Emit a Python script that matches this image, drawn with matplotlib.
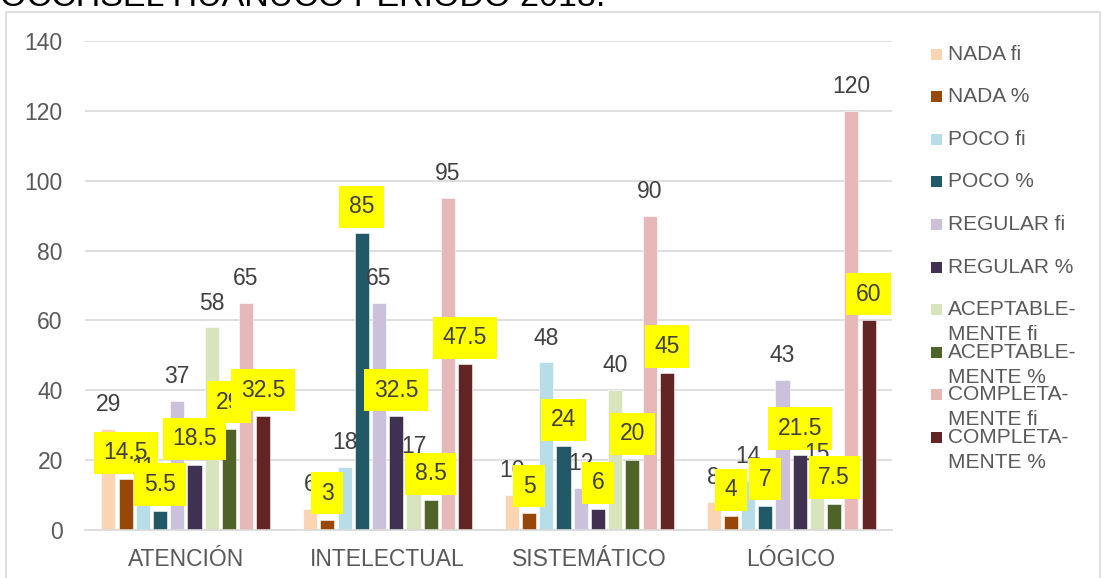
import numpy as np
import matplotlib
matplotlib.use("Agg")
import matplotlib.pyplot as plt
from matplotlib.patches import Rectangle

plt.rcParams['font.family'] = ['Liberation Sans', 'DejaVu Sans']

categories = ['ATENCIÓN', 'INTELECTUAL', 'SISTEMÁTICO', 'LÓGICO']
series = ['NADA fi', 'NADA %', 'POCO fi', 'POCO %', 'REGULAR fi', 'REGULAR %',
          'ACEPTABLE-\nMENTE fi', 'ACEPTABLE-\nMENTE %',
          'COMPLETA-\nMENTE fi', 'COMPLETA-\nMENTE %']
colors = ['#FBD4B4', '#974806', '#B7DDE8', '#215967', '#CCC1DA',
          '#403151', '#D7E4BD', '#4F6228', '#E6B9B8', '#632523']

# one list per series, in category order
nada_fi = [29, 6, 10, 8]
nada_pct = [14.5, 3, 5, 4]
poco_fi = [11, 18, 48, 14]
poco_pct = [5.5, 85, 24, 7]
regular_fi = [37, 65, 12, 43]
regular_pct = [18.5, 32.5, 6, 21.5]
acept_fi = [58, 17, 40, 15]
acept_pct = [29, 8.5, 20, 7.5]
compl_fi = [65, 95, 90, 120]
compl_pct = [32.5, 47.5, 45, 60]
values = [nada_fi, nada_pct, poco_fi, poco_pct, regular_fi, regular_pct,
          acept_fi, acept_pct, compl_fi, compl_pct]

W, H = 1103, 578
fig = plt.figure(figsize=(W / 100, H / 100), dpi=100)

def fx(px):
    return px / W

def fy(py):
    return 1 - py / H

# chart frame and the heading above it (cut off by the image edge)
fig.patches.append(Rectangle((fx(6), fy(600)), fx(1094), fy(12) - fy(600),
                             transform=fig.transFigure, fill=False,
                             edgecolor='#D9D9D9', linewidth=1.2))
fig.text(fx(0), fy(6), 'OCCHSEL HUANUCO PERIODO 2018.', fontsize=24.5,
         color='black', ha='left', va='baseline')

ax = fig.add_axes([fx(85), fy(530), fx(892) - fx(85), fy(41) - fy(530)])

n = len(series)
slot = 0.0853
width = 0.07
x = np.arange(len(categories))
for i, (vals, col) in enumerate(zip(values, colors)):
    pos = x + (i - (n - 1) / 2) * slot
    ax.bar(pos, vals, width, color=col, edgecolor='white', linewidth=0.4,
           zorder=2)
    for xp, v in zip(pos, vals):
        if i % 2 == 0:
            ax.annotate(f'{v:g}', xy=(xp, v), xytext=(0, 17.5),
                        textcoords='offset points', ha='center', va='center',
                        fontsize=16.5, color='#404040', zorder=10 + i)
        else:
            ax.annotate(f'{v:g}', xy=(xp, v), xytext=(0, 19),
                        textcoords='offset points', ha='center', va='center',
                        fontsize=16.5, color='#404040', zorder=10 + i,
                        bbox=dict(boxstyle='square,pad=0.42', fc='#FFFF00',
                                  ec='none'))

ax.set_ylim(0, 140)
ax.set_xlim(-0.5, len(categories) - 0.5)
ax.set_yticks(range(0, 141, 20))
ax.set_xticks(x)
ax.set_xticklabels(categories)
ax.tick_params(axis='y', length=0, pad=16, labelsize=16.5, labelcolor='#595959')
ax.tick_params(axis='x', length=0, pad=13, labelsize=16.5, labelcolor='#595959')
ax.grid(axis='y', color='#D9D9D9', linewidth=1.2, zorder=0)
ax.set_axisbelow(True)
for s in ['top', 'right', 'left']:
    ax.spines[s].set_visible(False)
ax.spines['bottom'].set_color('#D9D9D9')
ax.spines['bottom'].set_linewidth(1.2)

# legend drawn by hand so the two-line entries overlap like the original
leg_y0, leg_dy = 54, 42.6
for i, (name, col) in enumerate(zip(series, colors)):
    yc = leg_y0 + i * leg_dy
    fig.patches.append(Rectangle((fx(931), fy(yc + 5.5)), fx(11), fy(0) - fy(11),
                                 transform=fig.transFigure, facecolor=col,
                                 edgecolor='none'))
    for j, line in enumerate(name.split('\n')):
        fig.text(fx(948), fy(yc + j * 25), line, fontsize=15,
                 color='#595959', ha='left', va='center')

fig.savefig('out.png', dpi=100)
